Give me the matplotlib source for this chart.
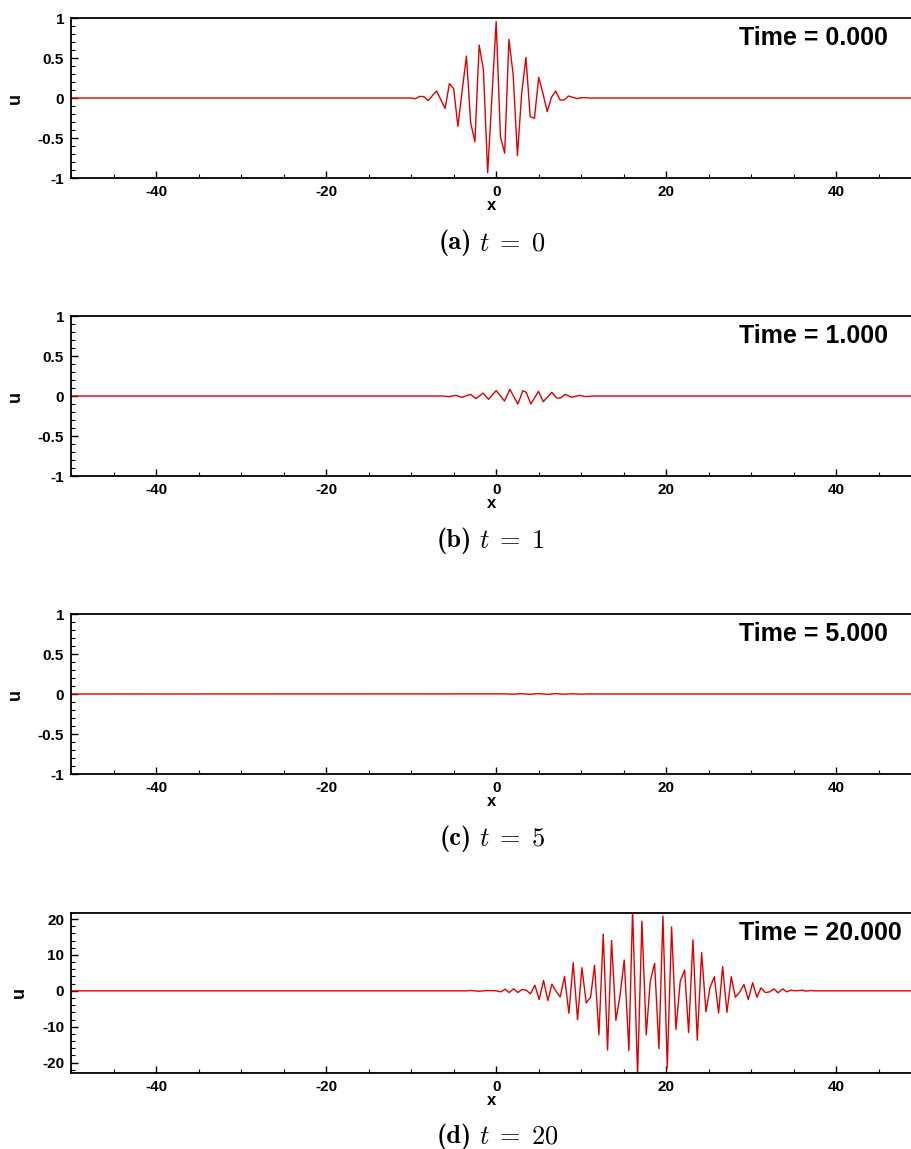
import os
import matplotlib
matplotlib.use("Agg")
import matplotlib.pyplot as plt
from matplotlib.ticker import MultipleLocator, FuncFormatter
from matplotlib.font_manager import FontProperties

# wave packet u(x) at four times
x_a = [-50, -10.0, -9.5, -9.0, -8.5, -8.0, -7.5, -7.0, -6.5, -6.0, -5.5, -5.0, -4.5, -4.0,
       -3.5, -3.0, -2.5, -2.0, -1.5, -1.0, -0.5, 0.0, 0.5, 1.0, 1.5, 2.0, 2.5, 3.0,
       3.5, 4.0, 4.5, 5.0, 5.5, 6.0, 6.5, 7.0, 7.5, 8.0, 8.5, 9.0, 9.5, 10.0, 10.5, 11.0, 50]
u_a = [0, 0, -0.01, 0.02, 0.017, -0.033, 0.03, 0.088, -0.025, -0.13, 0.18, 0.117, -0.354, 0.09,
       0.525, -0.31, -0.546, 0.662, 0.35, -0.933, 0.01, 0.954, -0.483, -0.69, 0.733, 0.288,
       -0.72, 0.058, 0.508, -0.233, -0.254, 0.258, 0.058, -0.171, 0.008, 0.088, -0.025,
       -0.025, 0.025, 0.008, -0.008, 0.004, 0.004, 0, 0]

x_b = [-50, -6.3, -5.53, -4.75, -4.04, -3.02, -2.39, -1.53, -0.9, 0.0, 0.98, 1.61, 2.55,
       3.14, 3.53, 4.08, 4.98, 5.53, 6.55, 7.1, 7.57, 8.12, 8.9, 9.76, 10.55, 11.33, 50]
u_b = [0, 0, -0.008, 0.008, -0.017, 0.021, -0.033, 0.037, -0.042, 0.067, -0.063, 0.083, -0.1,
       0.067, 0.046, -0.1, 0.058, -0.071, 0.046, -0.025, -0.025, 0.021, -0.017, 0.008,
       -0.008, 0, 0]

x_c = [-50, 1.0, 2.0, 3.0, 4.0, 5.0, 6.0, 7.0, 8.0, 9.0, 10.0, 11.0, 12.0, 50]
u_c = [0, 0.002, -0.003, 0.004, -0.004, 0.005, -0.004, 0.004, -0.003, 0.003, -0.002, 0.001, 0, 0]

x_d = [-50, -3.5, -3.0, -2.0, -1.0, 0.0, 0.55, 1.06, 1.53, 2.04, 2.55, 3.02, 3.53, 4.04, 4.55,
       5.06, 5.57, 6.08, 6.55, 7.06, 7.53, 8.04, 8.55, 9.06, 9.57, 10.08, 10.59, 11.1,
       11.57, 12.08, 12.59, 13.1, 13.57, 14.08, 14.55, 15.06, 15.61, 16.04, 16.63, 17.14,
       17.65, 18.12, 18.63, 19.14, 19.61, 20.12, 20.63, 21.14, 21.65, 22.16, 22.63, 23.14,
       23.65, 24.16, 24.67, 25.14, 25.65, 26.16, 26.63, 27.14, 27.65, 28.12, 28.63, 29.14,
       29.65, 30.16, 30.67, 31.14, 31.65, 32.16, 32.67, 33.14, 33.69, 34.16, 34.67, 35.18,
       36.04, 36.43, 37.0, 37.5, 50]
u_d = [0, 0, 0.1, -0.1, 0.1, 0, -0.28, 0.47, -0.47, 0.56, -0.47, 0.37, 0.19, -0.84, 1.59,
       -2.43, 2.9, -2.72, 1.87, -0.19, -1.69, 4.03, -6.27, 7.87, -8.05, 6.46, -3.37, -1.78,
       7.12, -12.27, 15.82, -16.48, 14.04, -8.24, -1.5, 8.61, -16.67, 22.5, -23.5, 19.38,
       -12.27, 2.72, 7.68, -16.1, 20.79, -21.44, 17.79, -10.77, 2.72, 5.8, -11.61, 14.23,
       -13.76, 10.67, -5.81, 0.84, 3.93, -6.18, 6.74, -5.99, 3.93, -1.78, -0.37, 1.78,
       -2.43, 2.25, -1.78, 0.84, -0.47, -0.28, 0.56, -0.56, 0.56, -0.28, 0.19, 0,
       0.19, -0.09, 0.1, 0, 0]

times = ["0.000", "1.000", "5.000", "20.000"]
tags = ["(a)", "(b)", "(c)", "(d)"]
tvals = [r"$t\;=\;0$", r"$t\;=\;1$", r"$t\;=\;5$", r"$t\;=\;20$"]

plt.rcParams["font.family"] = ["Liberation Sans", "DejaVu Sans"]
plt.rcParams["font.weight"] = "bold"
plt.rcParams["mathtext.fontset"] = "cm"
cmb = FontProperties(fname=os.path.join(matplotlib.get_data_path(), "fonts", "ttf", "cmb10.ttf"),
                     size=19)

W, H = 912, 1149
fig = plt.figure(figsize=(W / 100, H / 100), dpi=100)

panels = [(x_a, u_a), (x_b, u_b), (x_c, u_c), (x_d, u_d)]
bottoms_px = [178, 476, 774, 1073]
caption_px = [243, 541, 839, 1137]
fmt = FuncFormatter(lambda v, _: f"{v:g}")

for i, (xs, us) in enumerate(panels):
    ax = fig.add_axes([71 / W, 1 - bottoms_px[i] / H, 841 / W, 160 / H])
    ax.plot(xs, us, color="#e00000", lw=1.0)
    ax.set_xlim(-50, 48.9)
    if i < 3:
        ax.set_ylim(-1, 1)
        ax.yaxis.set_major_locator(MultipleLocator(0.5))
        ax.yaxis.set_minor_locator(MultipleLocator(0.1))
    else:
        ax.set_ylim(-22.9, 21.7)
        ax.yaxis.set_major_locator(MultipleLocator(10))
        ax.yaxis.set_minor_locator(MultipleLocator(2))
    ax.xaxis.set_major_locator(MultipleLocator(20))
    ax.xaxis.set_minor_locator(MultipleLocator(5))
    ax.xaxis.set_major_formatter(fmt)
    ax.yaxis.set_major_formatter(fmt)
    ax.tick_params(which="both", direction="in", top=False, right=False,
                   labelsize=11, pad=5)
    ax.tick_params(which="major", length=5, width=1)
    ax.tick_params(which="minor", length=3, width=0.8)
    for s in ax.spines.values():
        s.set_linewidth(1.3)
    ax.set_xlabel("x", fontsize=12, fontweight="bold", labelpad=-1)
    ax.set_ylabel("u", fontsize=13, fontweight="bold", labelpad=10)
    ax.text((739 - 71) / 841, 0.95, "Time = " + times[i], transform=ax.transAxes,
            ha="left", va="top", fontsize=18, fontweight="bold")
    yc = 1 - caption_px[i] / H
    fig.text(472 / W, yc, tags[i], ha="right", va="center", fontproperties=cmb)
    fig.text(479 / W, yc, tvals[i], ha="left", va="center", fontsize=19)

fig.savefig("out.png", dpi=100)
